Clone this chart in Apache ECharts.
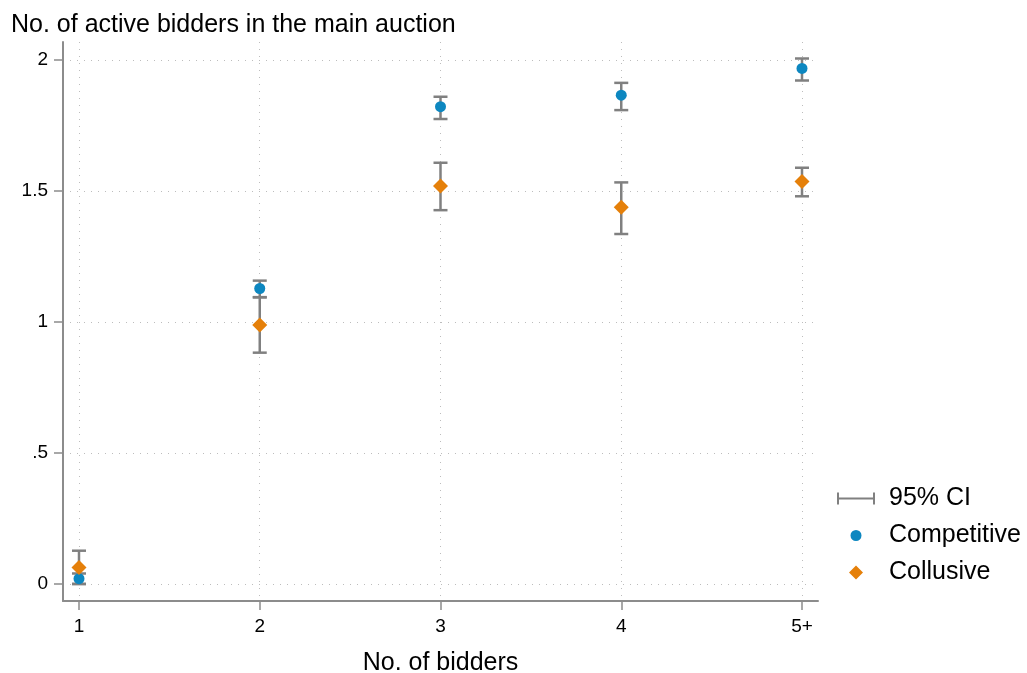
<!DOCTYPE html>
<html>
<head>
<meta charset="utf-8">
<script src="https://cdn.jsdelivr.net/npm/echarts@6/dist/echarts.min.js"></script>
<style>
  html, body { margin: 0; padding: 0; background: #fff; }
  #chart { width: 1027px; height: 673px; }
</style>
</head>
<body>
<div id="chart"></div>
<script>
// Number of bidders (x positions) and their tick labels
const bidderPositions = [1, 2, 3, 4, 5];
const bidderLabels = ['1', '2', '3', '4', '5+'];

// Mean number of active bidders in the main auction
const competitiveMean = [0.02, 1.128, 1.822, 1.866, 1.968];
const competitiveLow  = [0.00, 1.094, 1.775, 1.809, 1.922];
const competitiveHigh = [0.04, 1.158, 1.860, 1.913, 2.006];

const collusiveMean = [0.063, 0.989, 1.519, 1.438, 1.536];
const collusiveLow  = [0.000, 0.883, 1.427, 1.336, 1.480];
const collusiveHigh = [0.127, 1.095, 1.608, 1.533, 1.589];

// Y tick values and labels
const yTickValues = [0, 0.5, 1, 1.5, 2];
const yTickLabels = ['0', '.5', '1', '1.5', '2'];

const FONT = '"Liberation Sans", Helvetica, Arial, sans-serif';
const BLUE = '#0d87c0';
const ORANGE = '#e5800a';
const CI_GRAY = '#808080';
const AXIS_GRAY = '#8c8c8c';

// Legend icons share a 38x14 box (corner specks fix the box size)
const BOX = 'M0,0L0,0.01L0.01,0Z M38,14L38,13.99L37.99,14Z ';
const ICON_CI = 'path://' + BOX + 'M0,1h2v12h-2z M2,6h34v2h-34z M36,1h2v12h-2z';
const ICON_DOT = 'path://' + BOX + 'M24.5,7A5.5,5.5 0 1 1 13.5,7A5.5,5.5 0 1 1 24.5,7Z';
const ICON_DIAMOND = 'path://' + BOX + 'M12,7L19,0L26,7L19,14Z';

// One interval per group and bidder count: [x, low, high]
const ciData = [];
bidderPositions.forEach((x, i) => {
  ciData.push([x, competitiveLow[i], competitiveHigh[i]]);
  ciData.push([x, collusiveLow[i], collusiveHigh[i]]);
});

const chart = echarts.init(document.getElementById('chart'), null, { renderer: 'canvas' });

chart.setOption({
  animation: false,
  backgroundColor: '#fff',
  title: {
    text: 'No. of active bidders in the main auction',
    left: 6,
    top: 8,
    textStyle: { fontFamily: FONT, fontSize: 25, fontWeight: 'normal', color: '#000' }
  },
  legend: {
    orient: 'vertical',
    left: 832,
    top: 481,
    itemWidth: 38,
    itemHeight: 14,
    itemGap: 12,
    textStyle: { fontFamily: FONT, fontSize: 25, lineHeight: 25, color: '#000', padding: [0, 0, 0, 9] },
    data: [
      { name: '95% CI', icon: ICON_CI, itemStyle: { color: CI_GRAY } },
      { name: 'Competitive', icon: ICON_DOT, itemStyle: { color: BLUE } },
      { name: 'Collusive', icon: ICON_DIAMOND, itemStyle: { color: ORANGE } }
    ]
  },
  grid: { left: 63, right: 209, top: 42, bottom: 72, outerBoundsMode: 'none' },
  xAxis: {
    type: 'value',
    min: 0.9115,
    max: 5.0885,
    name: 'No. of bidders',
    nameLocation: 'middle',
    nameGap: 50,
    nameTextStyle: { fontFamily: FONT, fontSize: 25, color: '#000' },
    axisLine: { show: true, onZero: false, lineStyle: { color: AXIS_GRAY, width: 2 } },
    axisTick: { show: true, length: 9, customValues: bidderPositions, lineStyle: { color: AXIS_GRAY, width: 1.5 } },
    axisLabel: {
      customValues: bidderPositions,
      margin: 16,
      fontFamily: FONT, fontSize: 19, color: '#000',
      formatter: v => bidderLabels[bidderPositions.indexOf(Math.round(v))]
    },
    splitLine: { show: true, lineStyle: { color: '#bdbdbd', type: [1, 6], width: 1 } }
  },
  yAxis: {
    type: 'value',
    min: -0.065,
    max: 2.069,
    axisLine: { show: true, onZero: false, lineStyle: { color: AXIS_GRAY, width: 2 } },
    axisTick: { show: true, length: 9, customValues: yTickValues, lineStyle: { color: AXIS_GRAY, width: 1.5 } },
    axisLabel: {
      customValues: yTickValues,
      margin: 15,
      fontFamily: FONT, fontSize: 19, color: '#000',
      formatter: v => {
        const i = yTickValues.findIndex(t => Math.abs(t - v) < 1e-6);
        return i >= 0 ? yTickLabels[i] : '';
      }
    },
    splitLine: { show: true, lineStyle: { color: '#bdbdbd', type: [1, 6], width: 1 } }
  },
  series: [
    {
      name: '95% CI',
      type: 'custom',
      z: 1,
      data: ciData,
      encode: { x: 0, y: [1, 2] },
      renderItem: (params, api) => {
        const x = api.value(0);
        const lo = api.coord([x, api.value(1)]);
        const hi = api.coord([x, api.value(2)]);
        const half = 7;
        const style = { stroke: CI_GRAY, lineWidth: 2.5, fill: null };
        return {
          type: 'group',
          children: [
            { type: 'line', shape: { x1: lo[0], y1: lo[1], x2: hi[0], y2: hi[1] }, style },
            { type: 'line', shape: { x1: lo[0] - half, y1: lo[1], x2: lo[0] + half, y2: lo[1] }, style },
            { type: 'line', shape: { x1: hi[0] - half, y1: hi[1], x2: hi[0] + half, y2: hi[1] }, style }
          ]
        };
      }
    },
    {
      name: 'Competitive',
      type: 'scatter',
      z: 3,
      symbol: 'circle',
      symbolSize: 11,
      itemStyle: { color: BLUE, opacity: 1 },
      data: bidderPositions.map((x, i) => [x, competitiveMean[i]])
    },
    {
      name: 'Collusive',
      type: 'scatter',
      z: 3,
      symbol: 'diamond',
      symbolSize: 15,
      itemStyle: { color: ORANGE, opacity: 1 },
      data: bidderPositions.map((x, i) => [x, collusiveMean[i]])
    }
  ]
});
</script>
</body>
</html>
